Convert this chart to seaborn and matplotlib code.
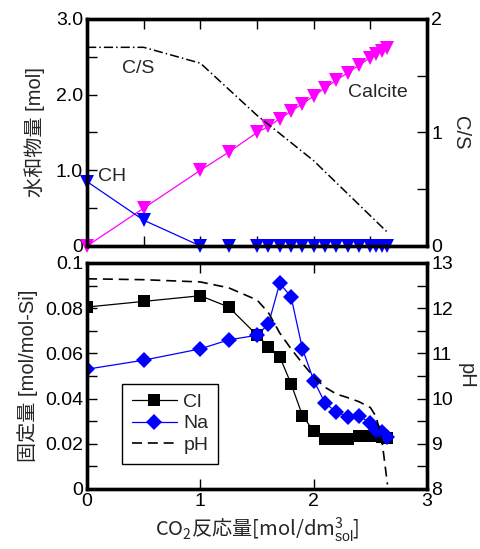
import matplotlib
matplotlib.use("Agg")
import matplotlib.pyplot as plt
import seaborn as sns
from matplotlib.lines import Line2D
from matplotlib.ticker import MultipleLocator, FuncFormatter

sns.set_theme(style="white")
plt.rcParams['font.family'] = ['Liberation Sans', 'Noto Sans CJK JP', 'DejaVu Sans']
# mathtext is only used in the x label, which mixes Japanese with sub/superscripts
plt.rcParams['mathtext.fontset'] = 'custom'
plt.rcParams['mathtext.default'] = 'regular'
plt.rcParams['mathtext.rm'] = 'Liberation Sans'
plt.rcParams['mathtext.it'] = 'Liberation Sans:italic'
plt.rcParams['axes.unicode_minus'] = False

# CO2 reaction amount (x)
co2 = [0, 0.5, 1.0, 1.25, 1.5, 1.6, 1.7, 1.8, 1.9, 2.0, 2.1, 2.2, 2.3, 2.4, 2.5, 2.55, 2.6, 2.65]

# top panel: hydrate amounts [mol]
calcite = [0, 0.5, 1.0, 1.24, 1.5, 1.58, 1.68, 1.78, 1.88, 1.98, 2.09, 2.19, 2.29, 2.39, 2.49, 2.54, 2.58, 2.62]
ch = [0.85, 0.34, 0, 0, 0, 0, 0, 0, 0, 0, 0, 0, 0, 0, 0, 0, 0, 0]
cs_x = [0, 0.5, 1.0, 1.5, 2.0, 2.65]
cs = [1.75, 1.75, 1.61, 1.15, 0.75, 0.12]

# bottom panel: fixed amount [mol/mol-Si] and pH
cl = [0.0805, 0.083, 0.0855, 0.0805, 0.068, 0.063, 0.0585, 0.0465, 0.0325, 0.0255,
      0.022, 0.022, 0.022, 0.0235, 0.0235, 0.0235, 0.023, 0.0225]
na = [0.053, 0.057, 0.062, 0.066, 0.068, 0.073, 0.091, 0.085, 0.062, 0.048,
      0.038, 0.034, 0.032, 0.0325, 0.029, 0.026, 0.025, 0.023]
ph = [12.65, 12.63, 12.58, 12.45, 12.18, 11.9, 11.45, 11.1, 10.78, 10.48,
      10.25, 10.1, 10.02, 9.93, 9.8, 9.6, 9.1, 8.1]

FS = 14      # tick labels and in-plot text
LFS = 14.5   # axis labels
fig = plt.figure(figsize=(4.81, 5.49), dpi=100)
ax1 = fig.add_axes([0.181, 0.552, 0.707, 0.4135])
ax2 = fig.add_axes([0.181, 0.1093, 0.707, 0.4117])
ax1r = ax1.twinx()
ax2r = ax2.twinx()


def style(ax):
    for s in ax.spines.values():
        s.set_linewidth(2.4)
        s.set_color('black')
    ax.tick_params(which='both', direction='in', length=7, width=1.0, colors='black',
                   labelsize=FS, pad=3)
    ax.grid(False)


def fmt_top(v, pos):
    return '0' if abs(v) < 1e-9 else f'{v:.1f}'


def fmt_bot(v, pos):
    if abs(v) < 1e-9:
        return '0'
    if abs(v - 0.1) < 1e-9:
        return '0.1'
    return f'{v:.2f}'


# ---- top panel ----
sns.lineplot(x=co2, y=calcite, ax=ax1, color='#ff00ff', marker='v', markersize=10,
             markeredgecolor='#ff00ff', markeredgewidth=0, linewidth=0.9,
             estimator=None, sort=False, clip_on=False)
sns.lineplot(x=co2, y=ch, ax=ax1, color='#0000ff', marker='v', markersize=10,
             markeredgecolor='#0000ff', markeredgewidth=0, linewidth=0.9,
             estimator=None, sort=False, clip_on=False)
sns.lineplot(x=cs_x, y=cs, ax=ax1r, color='black', linewidth=1.1,
             linestyle=(0, (6, 2, 1, 2)), estimator=None, sort=False)

ax1.set_xlim(0, 3)
ax1.set_ylim(0, 3.0)
ax1r.set_ylim(0, 2)
ax1.xaxis.set_major_locator(MultipleLocator(0.5))
ax1.set_xticklabels([])
ax1.yaxis.set_major_locator(MultipleLocator(1.0))
ax1.yaxis.set_minor_locator(MultipleLocator(0.5))
ax1.yaxis.set_major_formatter(FuncFormatter(fmt_top))
ax1r.yaxis.set_major_locator(MultipleLocator(1))
ax1r.yaxis.set_minor_locator(MultipleLocator(0.5))
ax1.tick_params(top=True, bottom=True, labelbottom=False)
ax1.set_ylabel('水和物量 [mol]', fontsize=LFS, labelpad=8)
ax1r.set_ylabel('C/S', fontsize=LFS, rotation=270, labelpad=20)
ax1.text(0.31, 2.34, 'C/S', fontsize=FS, va='center')
ax1.text(2.30, 2.03, 'Calcite', fontsize=FS, va='center')
ax1.text(0.10, 0.92, 'CH', fontsize=FS, va='center')
for a in (ax1, ax1r):
    style(a)
ax1r.tick_params(left=False)

# ---- bottom panel ----
sns.lineplot(x=co2, y=cl, ax=ax2, color='black', marker='s', markersize=8,
             markeredgecolor='black', markeredgewidth=0, linewidth=0.9,
             estimator=None, sort=False)
sns.lineplot(x=co2, y=na, ax=ax2, color='#0000ff', marker='D', markersize=8.5,
             markeredgecolor='#0000ff', markeredgewidth=0, linewidth=0.9,
             estimator=None, sort=False)
sns.lineplot(x=co2, y=ph, ax=ax2r, color='black', linewidth=1.2,
             linestyle=(0, (6, 3.5)), estimator=None, sort=False)

ax2.set_xlim(0, 3)
ax2.set_ylim(0, 0.1)
ax2r.set_ylim(8, 13)
ax2.xaxis.set_major_locator(MultipleLocator(1))
ax2.xaxis.set_minor_locator(MultipleLocator(0.5))
ax2.yaxis.set_major_locator(MultipleLocator(0.02))
ax2.yaxis.set_minor_locator(MultipleLocator(0.01))
ax2.yaxis.set_major_formatter(FuncFormatter(fmt_bot))
ax2r.yaxis.set_major_locator(MultipleLocator(1))
ax2r.yaxis.set_minor_locator(MultipleLocator(0.5))
ax2.tick_params(top=True, bottom=True)
# the label gets its own CJK family: non-math parts of a mathtext string use only the text's first font
ax2.set_xlabel('CO$_2$反応量[mol/dm$^{3}_{\\mathrm{sol}}$]', fontsize=LFS, labelpad=4,
               fontfamily='Noto Sans CJK JP')
ax2.set_ylabel('固定量 [mol/mol-Si]', fontsize=LFS, labelpad=5)
ax2r.set_ylabel('pH', fontsize=LFS, rotation=270, labelpad=16)
for a in (ax2, ax2r):
    style(a)
ax2r.tick_params(left=False)

handles = [
    Line2D([], [], color='black', marker='s', markersize=8, markeredgewidth=0, linewidth=0.9),
    Line2D([], [], color='#0000ff', marker='D', markersize=8.5, markeredgewidth=0, linewidth=0.9),
    Line2D([], [], color='black', linewidth=1.2, linestyle=(0, (6, 3.5))),
]
leg = ax2r.legend(handles, ['Cl', 'Na', 'pH'], loc='lower left',
                  bbox_to_anchor=(0.103, 0.112), fontsize=FS, frameon=True,
                  fancybox=False, edgecolor='black', framealpha=1,
                  handlelength=2.3, handletextpad=0.35, borderpad=0.5,
                  labelspacing=0.2, borderaxespad=0)
leg.get_frame().set_linewidth(1.0)

fig.savefig('out.png', dpi=100)
